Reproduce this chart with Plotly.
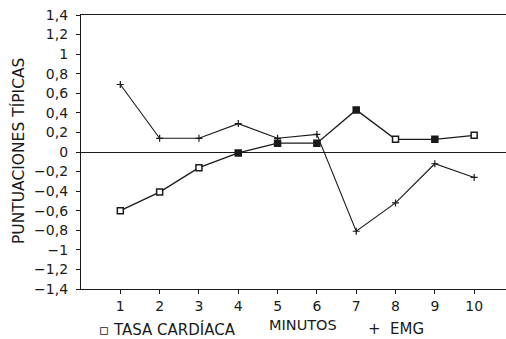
import plotly.graph_objects as go

minutos = [1, 2, 3, 4, 5, 6, 7, 8, 9, 10]
tasa_cardiaca = [-0.60, -0.41, -0.16, -0.01, 0.09, 0.09, 0.43, 0.13, 0.13, 0.17]
emg = [0.69, 0.14, 0.14, 0.29, 0.14, 0.18, -0.81, -0.52, -0.12, -0.26]
y_ticks = [1.4, 1.2, 1, 0.8, 0.6, 0.4, 0.2, 0, -0.2, -0.4, -0.6, -0.8, -1, -1.2, -1.4]

FONT = "DejaVu Sans, Arial, sans-serif"
INK = "#1a1a1a"

# plot area in page pixels: x 81..506, y 15..289 (body margin removed below)
W, H = 506, 339
PL, PR, PT, PB = 81, 506, 15, 289


def px(x):
    return (x - PL) / (PR - PL)


def py(y):
    return (PB - y) / (PB - PT)


fig = go.Figure()
fig.add_trace(go.Scatter(
    x=minutos, y=tasa_cardiaca, mode="lines+markers", name="TASA CARDÍACA",
    line=dict(color=INK, width=1.3),
    marker=dict(symbol="square", size=6,
                color=["white", "white", "white", INK, INK, INK, INK, "white", INK, "white"],
                line=dict(color=INK, width=1.5)),
))
fig.add_trace(go.Scatter(
    x=minutos, y=emg, mode="lines+markers", name="EMG",
    line=dict(color=INK, width=1.1),
    marker=dict(symbol="cross-thin", size=5, line=dict(color=INK, width=1.2), color=INK),
))

fig.update_layout(
    width=W, height=H,
    margin=dict(l=PL, r=W - PR, t=PT, b=H - PB),
    paper_bgcolor="white", plot_bgcolor="white",
    showlegend=False,
    separators=",.",
    font=dict(family=FONT, size=14, color=INK),
    xaxis=dict(
        range=[0, 10.81], tickvals=minutos, ticktext=[str(m) for m in minutos],
        showgrid=False, zeroline=False,
        showline=True, linecolor=INK, linewidth=1.3, mirror=True,
        ticks="outside", ticklen=4, tickcolor=INK, tickwidth=1,
        tickfont=dict(size=14),
    ),
    yaxis=dict(
        range=[-1.4, 1.4], tickvals=y_ticks,
        showgrid=False, zeroline=True, zerolinecolor=INK, zerolinewidth=1.3,
        showline=True, linecolor=INK, linewidth=1.3, mirror=False,
        ticks="outside", ticklen=4, tickcolor=INK, tickwidth=1,
        tickfont=dict(size=14), tickformat=",.1~f", ticklabelstandoff=5,
    ),
)

fig.add_annotation(text="PUNTUACIONES TÍPICAS", xref="paper", yref="paper",
                   x=px(18), y=py(151), textangle=-90, showarrow=False,
                   font=dict(size=15.5), xanchor="center", yanchor="middle")
fig.add_annotation(text="MINUTOS", xref="paper", yref="paper",
                   x=px(303), y=py(325), showarrow=False,
                   font=dict(size=14.5), xanchor="center", yanchor="middle")
fig.add_annotation(text="▫ TASA CARDÍACA", xref="paper", yref="paper",
                   x=px(97), y=py(329), showarrow=False,
                   font=dict(size=15), xanchor="left", yanchor="middle")
fig.add_annotation(text="+  EMG", xref="paper", yref="paper",
                   x=px(366), y=py(329), showarrow=False,
                   font=dict(size=15), xanchor="left", yanchor="middle")

fig.write_html("out.html", config={"displayModeBar": False},
               post_script="document.body.style.margin='0px';")
